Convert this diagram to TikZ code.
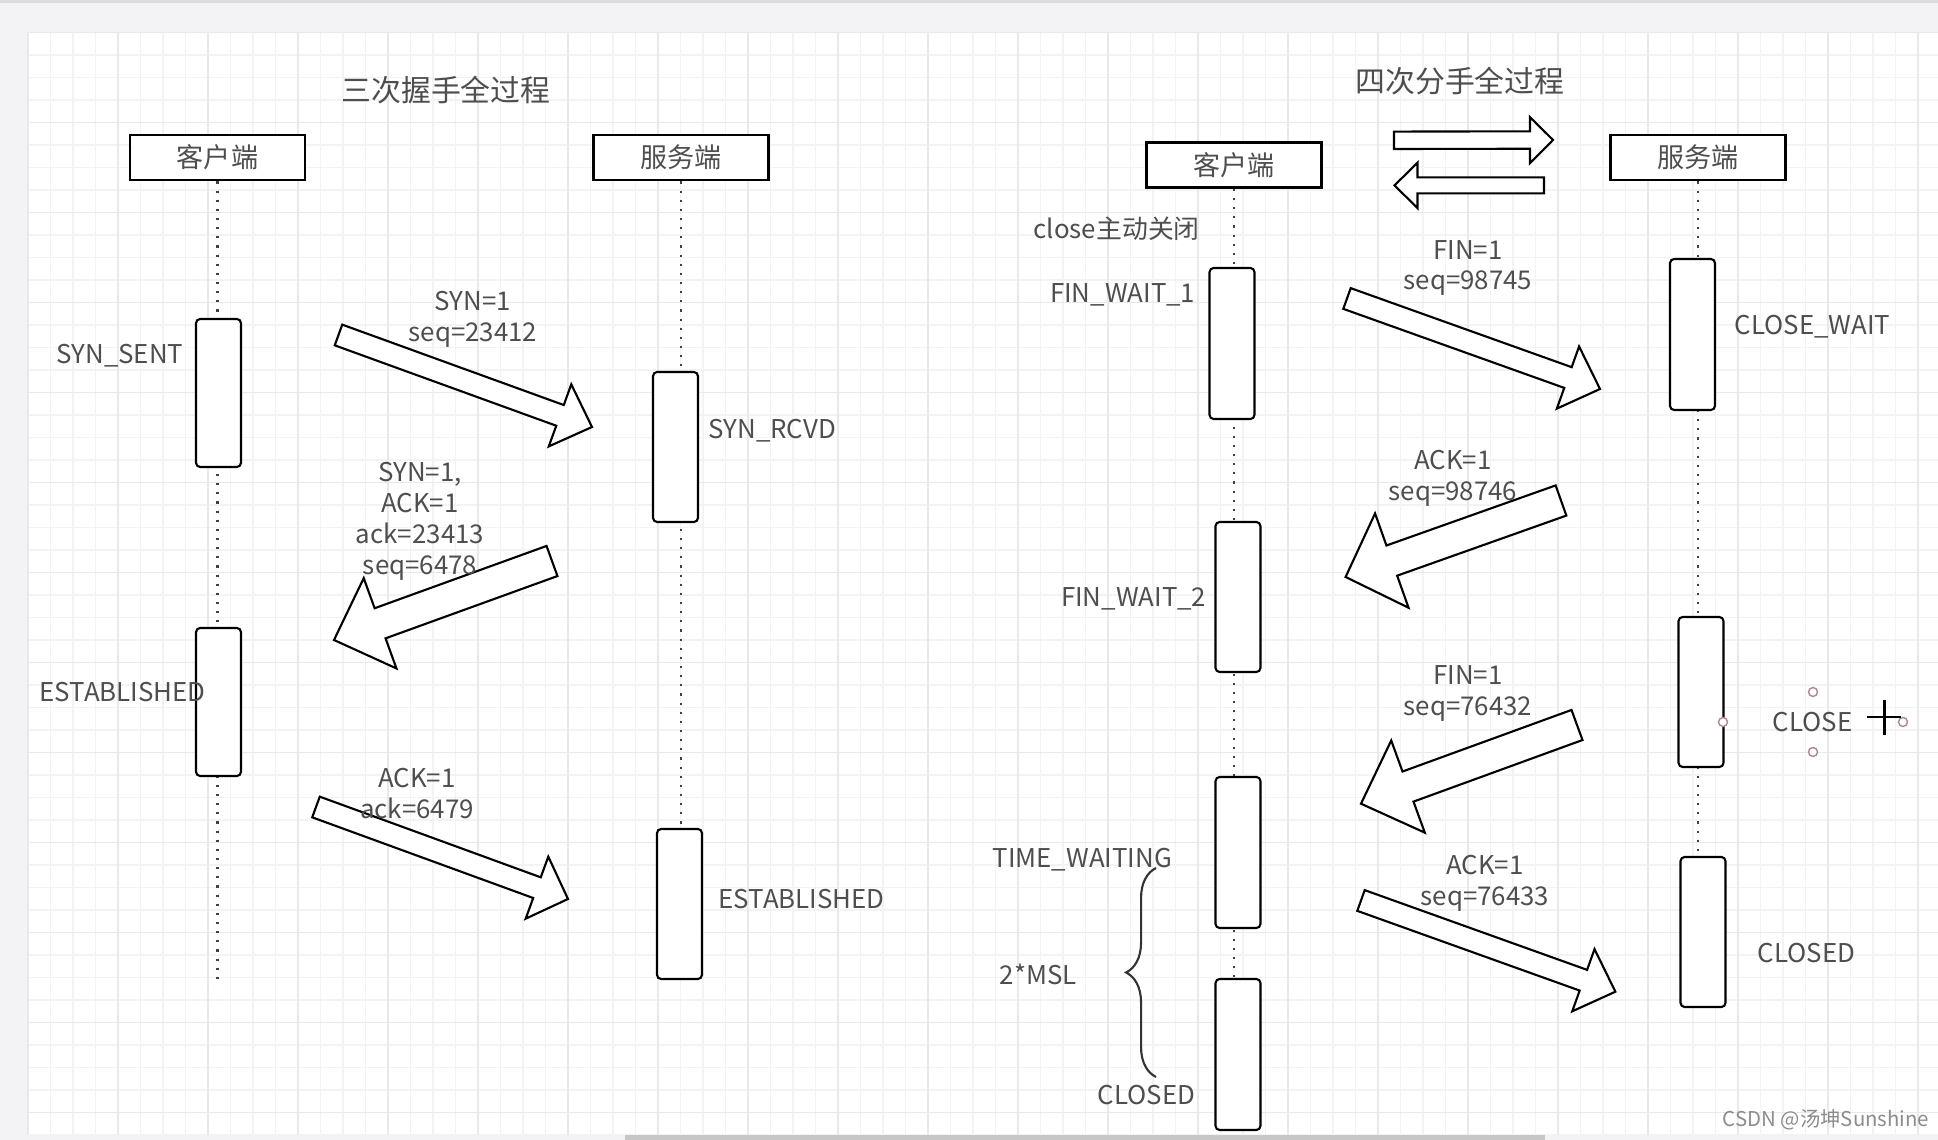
\documentclass[tikz,border=0pt]{standalone}
\usepackage{fontspec}
\setmainfont{Noto Sans CJK SC}
\usepackage{xcolor}
\usepackage{tikz}
\usetikzlibrary{shapes,arrows}
\usetikzlibrary{positioning}
\usetikzlibrary{calc,fit}
\usetikzlibrary{decorations.pathreplacing}
\usetikzlibrary{arrows.meta}
\tikzset{>=stealth}
\definecolor{txt}{RGB}{78,78,78}
\definecolor{gridminor}{RGB}{243,243,243}
\definecolor{gridmajor}{RGB}{233,233,233}
\definecolor{frame}{RGB}{243,243,245}
\definecolor{handle}{RGB}{176,136,148}
\newcommand\lblfont{\fontsize{7.35}{8.8}\selectfont}
\newcommand\boxfont{\fontsize{7.7}{8.8}\selectfont}
\newcommand\ttlfont{\fontsize{8.5}{10}\selectfont}
\newcommand\wmfont{\fontsize{5.8}{7}\selectfont}
% block arrow: tail, tip, shaft half width, head half width, head length
\newcommand\fatarrow[5]{%
	\coordinate (fa-base) at ($(#2)!#5!(#1)$);
	\draw[fat] ($(#1)!#3!90:(#2)$) -- ($(fa-base)!#3!90:(#2)$) -- ($(fa-base)!#4!90:(#2)$) -- (#2)
		-- ($(fa-base)!#4!-90:(#2)$) -- ($(fa-base)!#3!-90:(#2)$) -- ($(#1)!#3!-90:(#2)$) -- cycle;}

\begin{document}
\begin{tikzpicture}
	[x=0.01cm, y=-0.01cm,
	actor/.style={draw=black,line width=0.8pt,fill=white,minimum width=1.75cm,minimum height=0.45cm,inner sep=0pt,text=txt,font=\boxfont},
	bar/.style={draw=black,line width=0.6pt,fill=white,rounded corners=1.2pt,minimum width=0.45cm,minimum height=1.5cm,inner sep=0pt},
	lbl/.style={text=txt,font=\lblfont,inner sep=0pt,align=center},
	life/.style={dotted,line width=0.6pt,draw=black!75},
	fat/.style={draw=black,line width=0.6pt,fill=white,line join=miter}]
	\useasboundingbox (0,0) rectangle (1938,1140);
	% background and grid
	\fill[frame] (0,0) rectangle (1938,1140);
	\fill[black!14] (0,0) rectangle (1938,3);
	\fill[white] (27.8,32.7) rectangle (1938,1135);
	\foreach \i in {0,...,84} \draw[gridminor,line width=0.4pt] ({27.8+22.5*\i},32.7) -- ({27.8+22.5*\i},1135);
	\foreach \i in {0,...,49} \draw[gridminor,line width=0.4pt] (27.8,{32.7+22.5*\i}) -- (1938,{32.7+22.5*\i});
	\foreach \i in {0,4,...,84} \draw[gridmajor,line width=0.4pt] ({27.8+22.5*\i},32.7) -- ({27.8+22.5*\i},1135);
	\foreach \i in {0,4,...,48} \draw[gridmajor,line width=0.4pt] (27.8,{32.7+22.5*\i}) -- (1938,{32.7+22.5*\i});
	\fill[black!22] (625,1135) rectangle (1545,1140);

	% titles and actors
	\node [lbl,font=\ttlfont] (t3) at (446,90) {三次握手全过程};
	\node [lbl,font=\ttlfont] (t4) at (1460,81) {四次分手全过程};
	\node [actor] (cli1) at (217.5,157.5) {客户端};
	\node [actor] (srv1) at (681,157.5) {服务端};
	\node [actor] (cli2) at (1234,165) {客户端};
	\node [actor] (srv2) at (1698,157.5) {服务端};

	% lifelines
	\coordinate (cli1end) at (217.5,979);
	\coordinate (srv1end) at (681,829);
	\coordinate (cli2end) at (1234,979);
	\coordinate (srv2end) at (1698,857);
	\draw[life] (cli1.south) -- (cli1end);
	\draw[life] (srv1.south) -- (srv1end);
	\draw[life] (cli2.south) -- (cli2end);
	\draw[life] (srv2.south) -- (srv2end);

	% activation bars
	\node [bar,minimum height=1.48cm] (sent) at (218.5,393) {};
	\node [bar] (rcvd) at (675.5,447) {};
	\node [bar,minimum height=1.48cm] (est1) at (218.5,702) {};
	\node [bar] (est2) at (679.5,904) {};
	\node [bar,minimum height=1.51cm] (fw1) at (1232,343.5) {};
	\node [bar,minimum height=1.51cm] (cw) at (1692.5,334.5) {};
	\node [bar] (fw2) at (1238,597) {};
	\node [bar] (cls) at (1701,692) {};
	\node [bar,minimum height=1.51cm] (tw) at (1238,852.5) {};
	\node [bar,minimum height=1.51cm] (cd1) at (1238,1054.5) {};
	\node [bar] (cd2) at (1703,932) {};

	% block arrows
	\coordinate (syn-a) at (338.5,335);  \coordinate (syn-b) at (592,427);
	\coordinate (sa-a) at (552,561);     \coordinate (sa-b) at (334,640);
	\coordinate (ack-a) at (316,807);    \coordinate (ack-b) at (568,899);
	\coordinate (fin1-a) at (1347,298.5); \coordinate (fin1-b) at (1600,389);
	\coordinate (ack1-a) at (1561,500.5); \coordinate (ack1-b) at (1345.6,577);
	\coordinate (fin2-a) at (1577,725);  \coordinate (fin2-b) at (1361,803.7);
	\coordinate (ack2-a) at (1361,900.5); \coordinate (ack2-b) at (1615.4,991.7);
	\coordinate (dup-a) at (1394,140.3); \coordinate (dup-b) at (1553,140);
	\coordinate (ddn-a) at (1544,185.4); \coordinate (ddn-b) at (1394.5,185.4);
	\fatarrow{syn-a}{syn-b}{0.11cm}{0.33cm}{0.34cm}
	\fatarrow{sa-a}{sa-b}{0.16cm}{0.48cm}{0.49cm}
	\fatarrow{ack-a}{ack-b}{0.11cm}{0.33cm}{0.33cm}
	\fatarrow{fin1-a}{fin1-b}{0.11cm}{0.33cm}{0.34cm}
	\fatarrow{ack1-a}{ack1-b}{0.16cm}{0.50cm}{0.49cm}
	\fatarrow{fin2-a}{fin2-b}{0.16cm}{0.49cm}{0.50cm}
	\fatarrow{ack2-a}{ack2-b}{0.11cm}{0.33cm}{0.34cm}
	\fatarrow{dup-a}{dup-b}{0.087cm}{0.23cm}{0.23cm}
	\fatarrow{ddn-a}{ddn-b}{0.08cm}{0.227cm}{0.23cm}

	% brace
	\coordinate (br-a) at (1156,1077);
	\coordinate (br-b) at (1156,868);
	\draw[decorate,decoration={brace,amplitude=8.5pt},line width=0.6pt,draw=black!80] (br-a) -- (br-b);

	% labels
	\node [lbl] (l1) at (473,319) {SYN=1\\seq=23412};
	\node [lbl] (l2) at (420,521) {SYN=1,\\ACK=1\\ack=23413\\seq=6478};
	\node [lbl] (l3) at (417,793.5) {ACK=1\\ack=6479};
	\node [lbl,anchor=east] (s1) at (184,355.5) {SYN\_SENT};
	\node [lbl,anchor=west] (s2) at (708,431) {SYN\_RCVD};
	\node [lbl,anchor=west] (s3) at (39,692) {ESTABLISHED};
	\node [lbl,anchor=west] (s4) at (718,899) {ESTABLISHED};
	\node [lbl,anchor=west] (r0) at (1033,229) {close主动关闭};
	\node [lbl,anchor=east] (r1) at (1196,295) {FIN\_WAIT\_1};
	\node [lbl] (m1) at (1468,268) {FIN=1\\seq=98745};
	\node [lbl,anchor=west] (r2) at (1734,327) {CLOSE\_WAIT};
	\node [lbl] (m2) at (1453,478) {ACK=1\\seq=98746};
	\node [lbl,anchor=east] (r3) at (1207,599) {FIN\_WAIT\_2};
	\node [lbl] (m3) at (1468,693.5) {FIN=1\\seq=76432};
	\node [lbl,anchor=west] (r4) at (1772,722) {CLOSE};
	\node [lbl,anchor=west] (r5) at (992,860) {TIME\_WAITING};
	\node [lbl,anchor=west] (r6) at (999,974) {2*MSL};
	\node [lbl,anchor=west] (r7) at (1097,1095) {CLOSED};
	\node [lbl] (m4) at (1485,883.5) {ACK=1\\seq=76433};
	\node [lbl,anchor=west] (r8) at (1757,953.5) {CLOSED};

	% selection handles and cursor
	\foreach \p in {(1813,692),(1813,752),(1723,722),(1903,722)}
		\draw[handle,fill=white,line width=0.4pt] \p circle (0.045cm);
	\draw[line width=0.8pt] (1867,717) -- (1901,717) (1884.6,700) -- (1884.6,734.6);
	\node [font=\wmfont,text=black!45,inner sep=0pt] (wm) at (1826,1120) {CSDN @汤坤Sunshine};
\end{tikzpicture}
\end{document}
